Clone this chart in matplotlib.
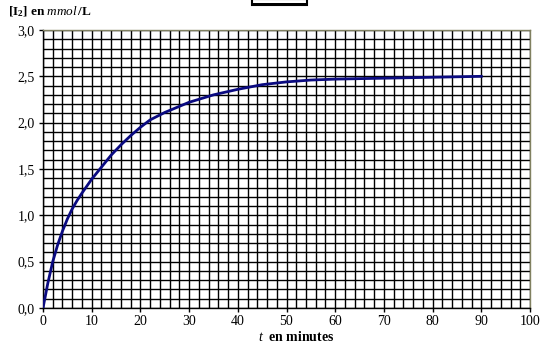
import matplotlib
matplotlib.use("Agg")
import matplotlib.pyplot as plt
from matplotlib.ticker import MultipleLocator, FuncFormatter
from matplotlib.patches import Rectangle

# iodine concentration vs time
t_min = [0, 1, 2, 3, 4, 5, 6, 7, 8, 10, 12, 14, 16, 18, 20, 22, 25, 30, 35,
         40, 45, 50, 55, 60, 70, 80, 90]
conc = [0, 0.27, 0.50, 0.68, 0.83, 0.96, 1.07, 1.16, 1.24, 1.39, 1.52, 1.65,
        1.76, 1.86, 1.95, 2.03, 2.11, 2.22, 2.30, 2.36, 2.41, 2.44, 2.46,
        2.47, 2.48, 2.49, 2.50]

plt.rcParams['font.family'] = 'Liberation Serif'
plt.rcParams['mathtext.fontset'] = 'custom'
plt.rcParams['mathtext.rm'] = 'Liberation Serif'
plt.rcParams['mathtext.it'] = 'Liberation Serif:italic'
plt.rcParams['mathtext.bf'] = 'Liberation Serif:bold'

fig = plt.figure(figsize=(5.48, 3.51), dpi=100)
ax = fig.add_axes([43/548, 43/351, 487/548, 278/351])

ax.plot(t_min, conc, color='#0a0a80', lw=2, zorder=3)

ax.set_xlim(0, 100)
ax.set_ylim(0, 3)
ax.xaxis.set_major_locator(MultipleLocator(10))
ax.xaxis.set_minor_locator(MultipleLocator(2))
ax.yaxis.set_major_locator(MultipleLocator(0.5))
ax.yaxis.set_minor_locator(MultipleLocator(0.1))
ax.yaxis.set_major_formatter(FuncFormatter(lambda v, p: f"{v:.1f}".replace('.', ',')))
ax.grid(which='both', color='black', lw=1)
ax.tick_params(which='major', direction='out', length=3, width=1, labelsize=10, pad=2)
ax.tick_params(axis='y', pad=3)
ax.tick_params(which='minor', length=0)

for s in ['top', 'right']:
    ax.spines[s].set_color('#808060')
    ax.spines[s].set_linewidth(1)
for s in ['left', 'bottom']:
    ax.spines[s].set_color('black')
    ax.spines[s].set_linewidth(1)

fig.text(8/548, 1 - 12/351, r"$\mathbf{[I_2]\ en\ }\mathit{mmol}\,\mathbf{/L}$",
         fontsize=9.5, va='center', ha='left')
fig.text(296/548, 1 - 337/351, r"$\mathbf{\mathit{t}\ \ en\ minutes}$",
         fontsize=10, va='center', ha='center')

# small box at the top
fig.patches.append(Rectangle((252/548, 1 - 5/351), 55/548, 6/351,
                             transform=fig.transFigure, facecolor='white',
                             edgecolor='black', lw=1.5))
fig.patches.append(Rectangle((252/548, 1 - 5/351), 55/548, 2/351,
                             transform=fig.transFigure, facecolor='black',
                             edgecolor='none'))

fig.savefig("out.png", dpi=100)
